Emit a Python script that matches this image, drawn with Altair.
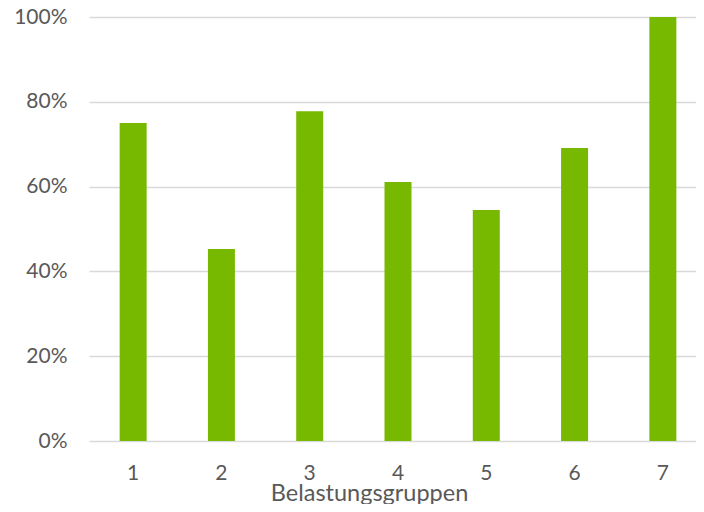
import altair as alt
import pandas as pd

groups = ["1", "2", "3", "4", "5", "6", "7"]
shares = [0.75, 0.453, 0.778, 0.611, 0.545, 0.691, 1.0]

df = pd.DataFrame({"Gruppe": groups, "Anteil": shares})

FONT = "Lato"
GRAY = "#595959"
GRID = "#d9d9d9"

chart = alt.Chart(df).mark_bar(color="#76B900", size=27).encode(
    x=alt.X("Gruppe:N", sort=groups,
            scale=alt.Scale(paddingInner=0.0, paddingOuter=0.0, range=[0, 618]),
            axis=alt.Axis(title="Belastungsgruppen", labelAngle=0, ticks=False,
                          domain=False, grid=False,
                          labelFont=FONT, labelFontSize=21, labelColor=GRAY,
                          labelBaseline="middle", labelPadding=32,
                          titleFont=FONT, titleFontSize=23.5, titleColor=GRAY,
                          titleFontWeight="normal", titleX=280, titleY=59,
                          titleAlign="center", titleBaseline="alphabetic")),
    y=alt.Y("Anteil:Q", scale=alt.Scale(domain=[0, 1], nice=False),
            axis=alt.Axis(title=None, format=".0%", values=[0, 0.2, 0.4, 0.6, 0.8, 1.0],
                          ticks=False, domain=False, grid=True, gridColor=GRID,
                          gridWidth=1.5,
                          labelFont=FONT, labelFontSize=21, labelColor=GRAY,
                          labelPadding=22)),
).properties(
    width=607, height=424,
    autosize=alt.AutoSizeParams(type="none"),
    padding={"left": 81, "top": 9, "right": 0, "bottom": 63},
).configure_view(stroke=None)

chart.save("out.html", embed_options={"renderer": "svg", "actions": False})
